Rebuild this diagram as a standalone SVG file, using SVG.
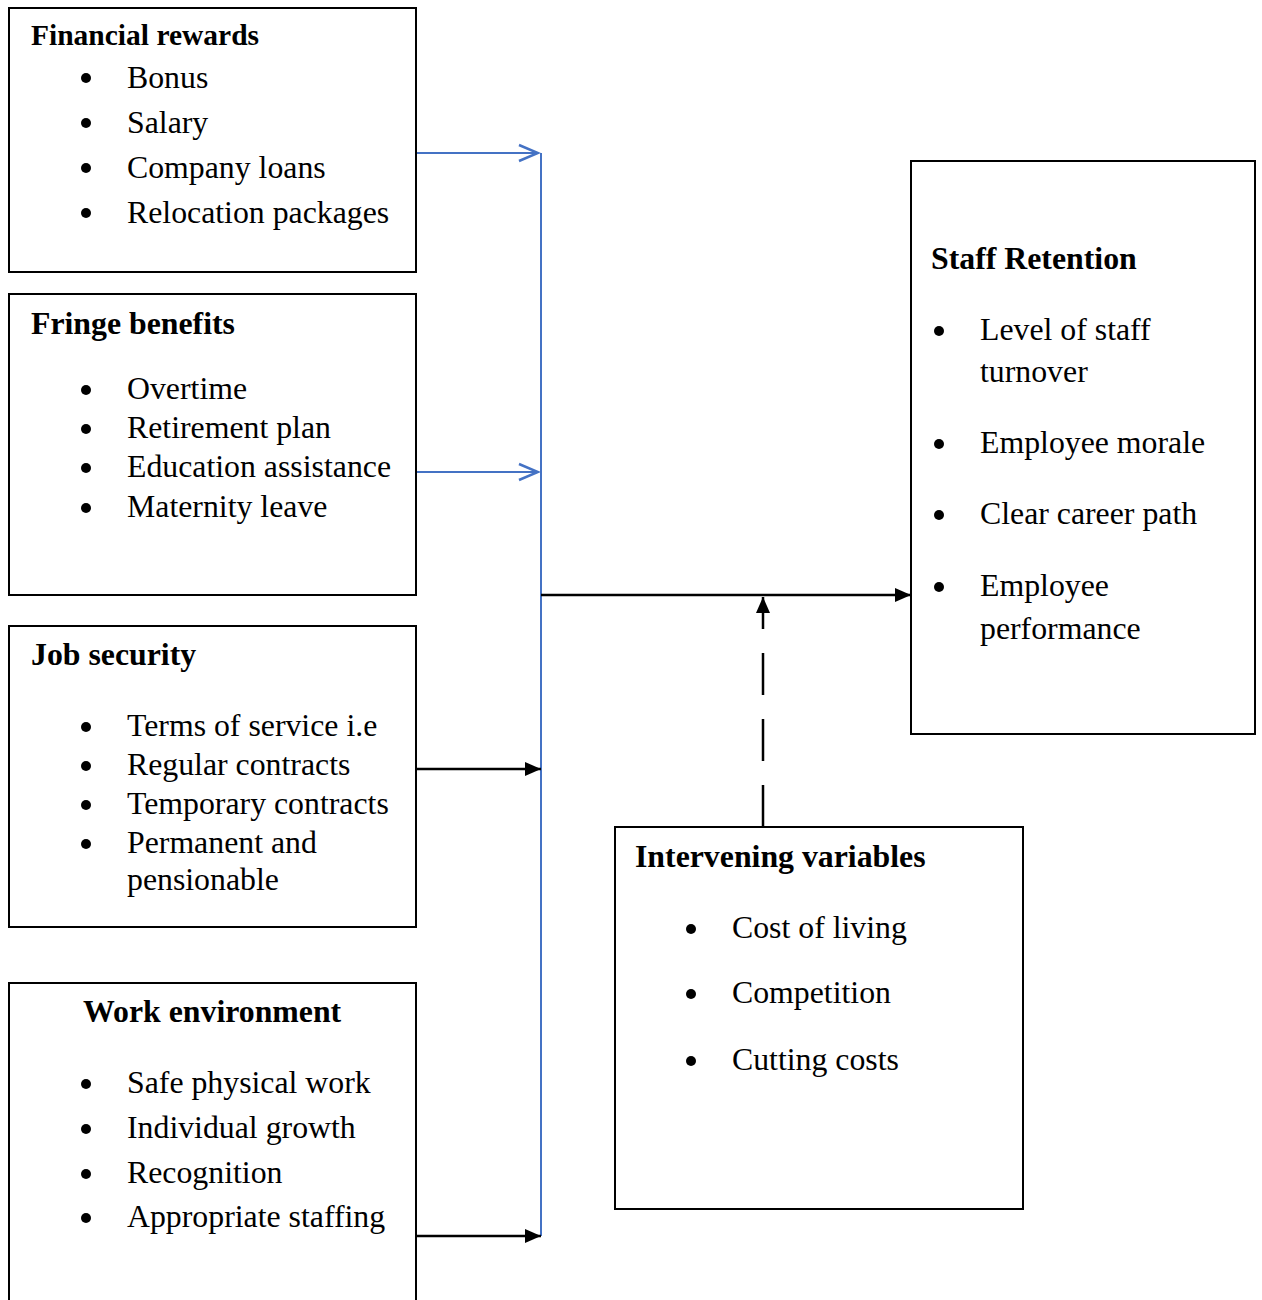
<svg xmlns="http://www.w3.org/2000/svg" width="1262" height="1300" viewBox="0 0 1262 1300">
<style>
.box{fill:#fff;stroke:#000;stroke-width:2}
text{font-family:"Liberation Serif","Times New Roman",serif;font-size:31.8px;fill:#000}
.h{font-weight:bold;font-size:31.8px}
.hs{font-size:29.5px}
.blue{stroke:#4472C4;stroke-width:2;fill:none}
.blk{stroke:#000;stroke-width:2.5;fill:none}
</style>
<defs>
<marker id="open" markerWidth="24" markerHeight="20" refX="21" refY="10" orient="auto" markerUnits="userSpaceOnUse">
<path d="M2,2 L21,10 L2,18" fill="none" stroke="#4472C4" stroke-width="2.5"/>
</marker>
<marker id="fill" markerWidth="18" markerHeight="14" refX="16" refY="7" orient="auto" markerUnits="userSpaceOnUse">
<path d="M0,0 L16,7 L0,14 Z" fill="#000"/>
</marker>
</defs>
<rect width="1262" height="1300" fill="#fff"/>
<g id="connectors">
<line class="blue" x1="541" y1="153" x2="541" y2="1236"/>
<line class="blue" x1="417" y1="153" x2="538" y2="153" marker-end="url(#open)"/>
<line class="blue" x1="417" y1="472" x2="538" y2="472" marker-end="url(#open)"/>
<line class="blk" x1="417" y1="769" x2="541" y2="769" marker-end="url(#fill)"/>
<line class="blk" x1="417" y1="1236" x2="541" y2="1236" marker-end="url(#fill)"/>
<line class="blk" x1="541" y1="595" x2="911" y2="595" marker-end="url(#fill)"/>
<line class="blk" x1="763" y1="827" x2="763" y2="597" stroke-dasharray="42,24" marker-end="url(#fill)"/>
</g>
<g id="financial">
<rect class="box" x="9" y="8" width="407" height="264"/>
<text class="h hs" x="31" y="45">Financial rewards</text>
<g fill="#000"><circle cx="86" cy="78" r="5"/><circle cx="86" cy="123" r="5"/><circle cx="86" cy="168" r="5"/><circle cx="86" cy="213" r="5"/></g>
<text x="127" y="88">Bonus</text>
<text x="127" y="133">Salary</text>
<text x="127" y="178">Company loans</text>
<text x="127" y="223">Relocation packages</text>
</g>
<g id="fringe">
<rect class="box" x="9" y="294" width="407" height="301"/>
<text class="h" x="31" y="334">Fringe benefits</text>
<g fill="#000"><circle cx="86" cy="390" r="5"/><circle cx="86" cy="429" r="5"/><circle cx="86" cy="468" r="5"/><circle cx="86" cy="508" r="5"/></g>
<text x="127" y="399">Overtime</text>
<text x="127" y="438">Retirement plan</text>
<text x="127" y="477">Education assistance</text>
<text x="127" y="517">Maternity leave</text>
</g>
<g id="jobsecurity">
<rect class="box" x="9" y="626" width="407" height="301"/>
<text class="h" x="31" y="665">Job security</text>
<g fill="#000"><circle cx="86" cy="727" r="5"/><circle cx="86" cy="766" r="5"/><circle cx="86" cy="805" r="5"/><circle cx="86" cy="844" r="5"/></g>
<text x="127" y="736">Terms of service i.e</text>
<text x="127" y="775">Regular contracts</text>
<text x="127" y="814">Temporary contracts</text>
<text x="127" y="853">Permanent and</text>
<text x="127" y="890">pensionable</text>
</g>
<g id="workenv">
<rect class="box" x="9" y="983" width="407" height="330"/>
<text class="h" x="83" y="1022">Work environment</text>
<g fill="#000"><circle cx="86" cy="1084" r="5"/><circle cx="86" cy="1129" r="5"/><circle cx="86" cy="1174" r="5"/><circle cx="86" cy="1218" r="5"/></g>
<text x="127" y="1093">Safe physical work</text>
<text x="127" y="1138">Individual growth</text>
<text x="127" y="1183">Recognition</text>
<text x="127" y="1227">Appropriate staffing</text>
</g>
<g id="retention">
<rect class="box" x="911" y="161" width="344" height="573"/>
<text class="h" x="931" y="269">Staff Retention</text>
<g fill="#000"><circle cx="939" cy="331" r="5"/><circle cx="939" cy="444" r="5"/><circle cx="939" cy="515" r="5"/><circle cx="939" cy="587" r="5"/></g>
<text x="980" y="340">Level of staff</text>
<text x="980" y="382">turnover</text>
<text x="980" y="453">Employee morale</text>
<text x="980" y="524">Clear career path</text>
<text x="980" y="596">Employee</text>
<text x="980" y="639">performance</text>
</g>
<g id="intervening">
<rect class="box" x="615" y="827" width="408" height="382"/>
<text class="h" x="635" y="867">Intervening variables</text>
<g fill="#000"><circle cx="691" cy="929" r="5"/><circle cx="691" cy="994" r="5"/><circle cx="691" cy="1061" r="5"/></g>
<text x="732" y="938">Cost of living</text>
<text x="732" y="1003">Competition</text>
<text x="732" y="1070">Cutting costs</text>
</g>
</svg>
